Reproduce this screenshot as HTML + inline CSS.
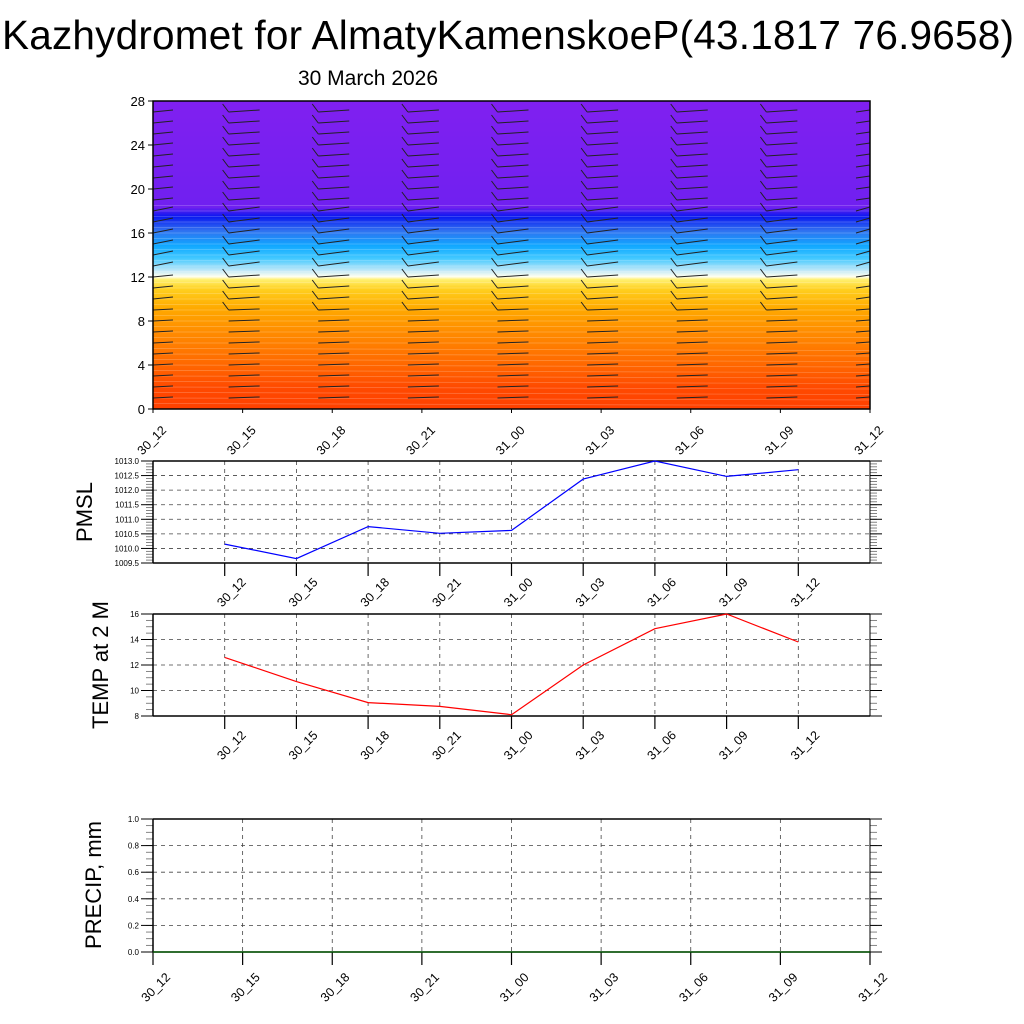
<!DOCTYPE html>
<html><head><meta charset="utf-8"><style>
body{margin:0;background:#fff;}
svg{display:block;font-family:"Liberation Sans",Arial,sans-serif;}
</style></head><body>
<svg id="c" width="1024" height="1024" viewBox="0 0 1024 1024">
<defs>
<linearGradient id="tg" x1="0" y1="1" x2="0" y2="0">
<stop offset="0" stop-color="#ff4000"/>
<stop offset="0.07" stop-color="#ff4a00"/>
<stop offset="0.14" stop-color="#ff6600"/>
<stop offset="0.25" stop-color="#ff8c00"/>
<stop offset="0.33" stop-color="#ffab00"/>
<stop offset="0.39" stop-color="#ffd020"/>
<stop offset="0.42" stop-color="#fff070"/>
<stop offset="0.43" stop-color="#fffff0"/>
<stop offset="0.45" stop-color="#c0e8f8"/>
<stop offset="0.49" stop-color="#40c8ff"/>
<stop offset="0.53" stop-color="#10a8ff"/>
<stop offset="0.58" stop-color="#3070f0"/>
<stop offset="0.625" stop-color="#0a18f0"/>
<stop offset="0.655" stop-color="#7020f0"/>
<stop offset="1" stop-color="#8020f0"/>
</linearGradient>
</defs>
<text x="508" y="49" font-size="40.5" text-anchor="middle" textLength="1012">Kazhydromet for AlmatyKamenskoeP(43.1817 76.9658)</text>
<text x="368" y="85" font-size="21" text-anchor="middle">30 March 2026</text>
<g id="g"></g>
</svg>
<script>
const times=["30_12","30_15","30_18","30_21","31_00","31_03","31_06","31_09","31_12"];
const pmsl=[1010.15,1009.65,1010.75,1010.52,1010.62,1012.38,1013.0,1012.47,1012.7];
const temp2m=[12.6,10.7,9.05,8.75,8.1,12.0,14.85,16.0,13.8];
const precip=[0,0,0,0,0,0,0,0,0];
const levelTicks=[0,4,8,12,16,20,24,28];
const pmslTicks=[1009.5,1010.0,1010.5,1011.0,1011.5,1012.0,1012.5,1013.0];
const tempTicks=[8,10,12,14,16];
const precipTicks=[0,0.2,0.4,0.6,0.8,1.0];

const NS="http://www.w3.org/2000/svg";
const G=document.getElementById('g');
function mk(t,a,p){const e=document.createElementNS(NS,t);for(const k in a)e.setAttribute(k,a[k]);(p||G).appendChild(e);return e;}

const T={l:153,r:870,t:101,b:409,y0:0,y1:28};
const tx=i=>T.l+(T.r-T.l)*i/8;
const ty=v=>T.b-(v-T.y0)/(T.y1-T.y0)*(T.b-T.t);
let r=mk('rect',{x:T.l,y:T.t,width:T.r-T.l,height:T.b-T.t,fill:'url(#tg)'});


for(let v=0.5;v<28;v+=0.5){if(v>18.5)break;mk('line',{x1:T.l,x2:T.r,y1:ty(v),y2:ty(v)+(v<6?2:0),stroke:'rgba(255,255,255,0.25)','stroke-width':0.7});}
for(let i=0;i<9;i++){
  const x=tx(i);
  for(let lv=1;lv<=27;lv++){
    const y=ty(lv);
    const b=mk('g',{stroke:'#222','stroke-width':1,fill:'none'});
    
    
    const x0=(i===0)?T.l:x-14, x1=(i===0)?T.l+20:(i===8?T.r:x+17);
    const tilt=lv>12&&lv<19?-4:(lv<10?-1:-2);
    mk('line',{x1:x0,y1:y,x2:x1,y2:y+tilt},b);
    if(lv>8&&i>0&&i<8) mk('line',{x1:x0,y1:y,x2:x0-6,y2:y-8},b);
  }
}
let bx=mk('rect',{x:T.l,y:T.t,width:T.r-T.l,height:T.b-T.t,fill:'none',stroke:'#000','stroke-width':1.5});

levelTicks.forEach(v=>{mk('line',{x1:T.l-5,x2:T.l,y1:ty(v),y2:ty(v),stroke:'#000'});
 const t=mk('text',{x:T.l-8,y:ty(v)+5,'font-size':13,'text-anchor':'end'});t.textContent=v;
 });
times.forEach((s,i)=>{const x=tx(i);mk('line',{x1:x,x2:x,y1:T.b,y2:T.b+4,stroke:'#000'});
 const ax=x+14,ay=T.b+22;
 const t=mk('text',{x:ax,y:ay,'font-size':12.5,'text-anchor':'end',transform:`rotate(-45 ${ax} ${ay})`});t.textContent=s;
 });

function panel(o){
  const {l,r,t,b,lo,hi,ticks,minor,vals,color,name,title,tcx,tcy,fmt,xi,lx,ly}=o;
  const X=i=>l+(r-l)*(i+xi)/(o.n);
  const Y=v=>b-(v-lo)/(hi-lo)*(b-t);
  ticks.forEach(v=>{if(v>lo&&v<hi)mk('line',{x1:l,x2:r,y1:Y(v),y2:Y(v),stroke:'#444','stroke-width':0.8,'stroke-dasharray':'4,4'});});
  times.forEach((s,i)=>{const x=X(i);if(x>l+1&&x<r-1)mk('line',{x1:x,x2:x,y1:t,y2:b,stroke:'#444','stroke-width':0.8,'stroke-dasharray':'4,4'});});
  for(let v=lo;v<=hi+1e-9;v+=minor){mk('line',{x1:l-7,x2:l,y1:Y(v),y2:Y(v),stroke:'#666','stroke-width':0.8});mk('line',{x1:r,x2:r+7,y1:Y(v),y2:Y(v),stroke:'#666','stroke-width':0.8});}
  ticks.forEach(v=>{mk('line',{x1:l-12,x2:l,y1:Y(v),y2:Y(v),stroke:'#000'});mk('line',{x1:r,x2:r+12,y1:Y(v),y2:Y(v),stroke:'#000'});
    const tt=mk('text',{x:l-14,y:Y(v)+3,'font-size':8,'text-anchor':'end'});tt.textContent=fmt(v);
    });
  mk('line',{x1:l,x2:r,y1:t,y2:t,stroke:'#000','stroke-width':1.5});
  mk('line',{x1:l,x2:r,y1:b,y2:b,stroke:'#000','stroke-width':1.5});
  mk('line',{x1:l,x2:l,y1:t,y2:b,stroke:'#000','stroke-width':1.5});
  mk('line',{x1:r,x2:r,y1:t,y2:b,stroke:'#000','stroke-width':1});
  times.forEach((s,i)=>{const x=X(i);mk('line',{x1:x,x2:x,y1:b,y2:b+13,stroke:'#000','stroke-width':1.2});
    const ax=x+lx,ay=b+ly;
    const tt=mk('text',{x:ax,y:ay,'font-size':12.5,'text-anchor':'end',transform:`rotate(-45 ${ax} ${ay})`});tt.textContent=s;
    });
  const pts=vals.map((v,i)=>X(i).toFixed(1)+','+Y(v).toFixed(1)).join(' ');
  const pl=mk('polyline',{points:pts,fill:'none',stroke:color,'stroke-width':1.2});
  
  const yt=mk('text',{x:tcx,y:tcy,'font-size':22,'text-anchor':'middle',transform:`rotate(-90 ${tcx} ${tcy})`});yt.textContent=title;
  
}
panel({l:153,r:870,t:461,b:563,lo:1009.5,hi:1013.0,ticks:pmslTicks,minor:0.1,vals:pmsl,color:'#0000ff',name:'pmsl',title:'PMSL',tcx:92,tcy:512,fmt:v=>v.toFixed(1),xi:1,n:10,lx:22,ly:20});
panel({l:153,r:870,t:614,b:716,lo:8,hi:16,ticks:tempTicks,minor:0.5,vals:temp2m,color:'#ff0000',name:'temp',title:'TEMP at 2 M',tcx:108,tcy:665,fmt:v=>v,xi:1,n:10,lx:22,ly:20});
panel({l:153,r:870,t:819,b:952,lo:0,hi:1,ticks:precipTicks,minor:0.05,vals:precip,color:'#006400',name:'precip',title:'PRECIP, mm',tcx:101,tcy:885,fmt:v=>v.toFixed(1),xi:0,n:8,lx:18,ly:26});
</script>
</body></html>
